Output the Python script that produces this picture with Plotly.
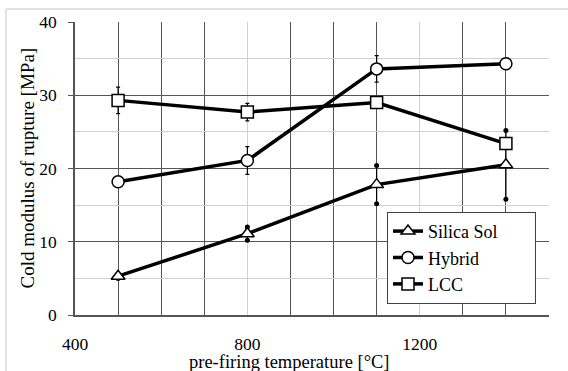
import plotly.graph_objects as go

temps = [500, 800, 1100, 1400]
silica = [5.3, 11.1, 17.8, 20.5]
silica_err = [0.3, 0.9, 2.6, 4.7]
hybrid = [18.2, 21.1, 33.6, 34.3]
hybrid_err = [0.5, 1.9, 1.8, 0.4]
lcc = [29.3, 27.7, 29.0, 23.4]
lcc_err = [1.8, 1.2, 0.6, 0.8]
series_names = ["Silica Sol", "Hybrid", "LCC"]
x_ticks = [400, 800, 1200]
y_ticks = [0, 10, 20, 30, 40]

FONT = "Liberation Serif"
L = 75; R = 549; T = 20; B = 315
W = R - L; H = B - T
PAD = "\u00a0" * 7  # widen the legend box like the reference

def px_x(p):
    return (p - L) / W

def px_y(p):
    return (B - p) / H

fig = go.Figure()

# dot-like error bar ends of Silica Sol
ends_x = temps + temps
ends_y = [v + e for v, e in zip(silica, silica_err)] + [v - e for v, e in zip(silica, silica_err)]
fig.add_trace(go.Scatter(
    x=ends_x, y=ends_y, mode="markers", showlegend=False, hoverinfo="skip",
    marker=dict(symbol="circle", size=5, color="black"),
))

def add_series(name, ys, errs, symbol):
    fig.add_trace(go.Scatter(
        x=temps, y=ys, name=name + (PAD if name == series_names[0] else ""),
        mode="lines+markers",
        line=dict(color="black", width=3.5),
        marker=dict(symbol=symbol, size=12, color="white",
                    line=dict(color="black", width=1.5)),
        error_y=dict(type="data", array=errs, visible=True,
                     color="black", thickness=1.2, width=2),
    ))

add_series(series_names[0], silica, silica_err, "triangle-up")
add_series(series_names[1], hybrid, hybrid_err, "circle")
add_series(series_names[2], lcc, lcc_err, "square")

fig.update_layout(
    width=568, height=371,
    margin=dict(l=L, r=568 - R, t=T, b=371 - B),
    paper_bgcolor="white", plot_bgcolor="white",
    font=dict(family=FONT, size=17, color="black"),
    showlegend=True,
    legend=dict(
        x=px_x(387), y=px_y(257.5), xanchor="left", yanchor="middle",
        bgcolor="white", bordercolor="#404040", borderwidth=1,
        font=dict(family=FONT, size=18, color="black"),
        tracegroupgap=0, itemwidth=30,
    ),
)

fig.update_xaxes(
    range=[400, 1500], tickmode="array", tickvals=x_ticks,
    ticktext=[str(v) for v in x_ticks],
    showgrid=True, gridcolor="#d0d0d0", gridwidth=1,
    minor=dict(dtick=100, tick0=400, showgrid=True, gridcolor="#555555", gridwidth=1.3),
    showline=True, linecolor="#555555", linewidth=1.5,
    ticks="", ticklabelstandoff=12, zeroline=False,
    tickfont=dict(family=FONT, size=17.5, color="black"),
)
fig.update_yaxes(
    range=[0, 40], tickmode="array", tickvals=y_ticks,
    showgrid=True, gridcolor="#555555", gridwidth=1.3,
    minor=dict(dtick=5, tick0=0, showgrid=True, gridcolor="#d0d0d0", gridwidth=1),
    showline=True, linecolor="#555555", linewidth=1.5,
    ticks="outside", ticklen=5, tickcolor="#555555", tickwidth=1.3,
    ticklabelstandoff=8, zeroline=False,
    tickfont=dict(family=FONT, size=17.5, color="black"),
)

fig.add_annotation(
    text="Cold modulus of rupture [MPa]", xref="paper", yref="paper",
    x=px_x(27), y=0.5, textangle=-90, showarrow=False,
    xanchor="center", yanchor="middle",
    font=dict(family=FONT, size=19, color="black"),
)
fig.add_annotation(
    text="pre-firing temperature [°C]", xref="paper", yref="paper",
    x=px_x(289), y=px_y(362), showarrow=False,
    xanchor="center", yanchor="middle",
    font=dict(family=FONT, size=18.5, color="black"),
)

# outer chart frame (partially visible)
fig.add_shape(type="line", xref="paper", yref="paper",
              x0=px_x(6), x1=px_x(600), y0=px_y(7), y1=px_y(7),
              line=dict(color="#d9d9d9", width=1.5))
fig.add_shape(type="line", xref="paper", yref="paper",
              x0=px_x(6), x1=px_x(6), y0=px_y(7), y1=px_y(400),
              line=dict(color="#d9d9d9", width=1.5))

fig.write_html("out.html", config={"displayModeBar": False},
               post_script="document.body.style.margin='0';document.body.style.overflow='hidden';")
